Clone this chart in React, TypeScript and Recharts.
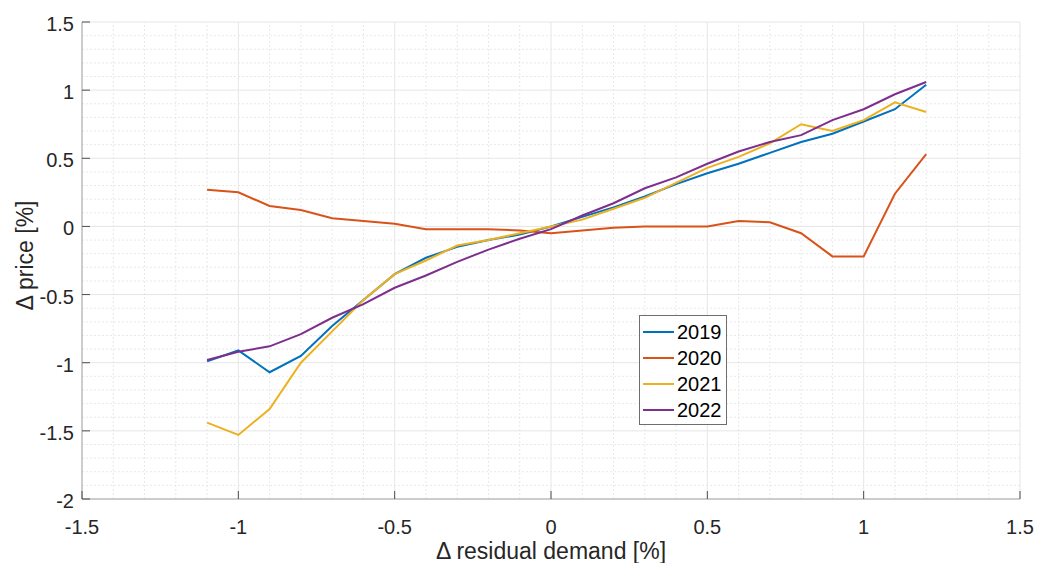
import {
  LineChart,
  Line,
  XAxis,
  YAxis,
  CartesianGrid,
  ReferenceLine,
  Legend,
} from 'recharts';

const demand = [-1.1, -1.0, -0.9, -0.8, -0.7, -0.6, -0.5, -0.4, -0.3, -0.2, -0.1, 0, 0.1, 0.2, 0.3, 0.4, 0.5, 0.6, 0.7, 0.8, 0.9, 1.0, 1.1, 1.2];
const price2019 = [-0.99, -0.91, -1.07, -0.95, -0.73, -0.54, -0.35, -0.23, -0.15, -0.1, -0.06, 0.0, 0.07, 0.14, 0.22, 0.31, 0.39, 0.46, 0.54, 0.62, 0.68, 0.77, 0.86, 1.04];
const price2020 = [0.27, 0.25, 0.15, 0.12, 0.06, 0.04, 0.02, -0.02, -0.02, -0.02, -0.03, -0.05, -0.03, -0.01, 0.0, 0.0, 0.0, 0.04, 0.03, -0.05, -0.22, -0.22, 0.24, 0.53];
const price2021 = [-1.44, -1.53, -1.34, -1.0, -0.77, -0.54, -0.35, -0.25, -0.14, -0.1, -0.05, 0.0, 0.05, 0.13, 0.21, 0.32, 0.43, 0.51, 0.61, 0.75, 0.7, 0.78, 0.91, 0.84];
const price2022 = [-0.98, -0.92, -0.88, -0.79, -0.67, -0.57, -0.45, -0.36, -0.26, -0.17, -0.09, -0.02, 0.08, 0.17, 0.28, 0.36, 0.46, 0.55, 0.62, 0.67, 0.78, 0.86, 0.97, 1.06];

const xTicks = [-1.5, -1, -0.5, 0, 0.5, 1, 1.5];
const yTicks = [-2, -1.5, -1, -0.5, 0, 0.5, 1, 1.5];

const series = [
  { key: 'y2019', name: '2019', color: '#0072BD' },
  { key: 'y2020', name: '2020', color: '#D95319' },
  { key: 'y2021', name: '2021', color: '#EDB120' },
  { key: 'y2022', name: '2022', color: '#7E2F8E' },
];

const data = demand.map((x, i) => ({
  x,
  y2019: price2019[i],
  y2020: price2020[i],
  y2021: price2021[i],
  y2022: price2022[i],
}));

// minor grid every 0.1, skipping the major lines
const minorX: number[] = [];
for (let i = -14; i <= 14; i++) if (i % 5 !== 0) minorX.push(i / 10);
const minorY: number[] = [];
for (let i = -19; i <= 14; i++) if (i % 5 !== 0) minorY.push(i / 10);

const FONT = '"Liberation Sans", Arial, Helvetica, sans-serif';
const TICK = '#4d4d4d';
const TEXT = '#262626';
const BOX = '#a6a6a6';

const BottomTick = ({ x, y, payload }: any) => (
  <g>
    <line x1={x} x2={x} y1={y} y2={y - 8} stroke={TICK} />
    <text x={x} y={y + 35} textAnchor="middle" fontSize={20} fill={TEXT} fontFamily={FONT}>
      {payload.value}
    </text>
  </g>
);

const LeftTick = ({ x, y, payload }: any) => (
  <g>
    <line x1={x} x2={x + 8} y1={y} y2={y} stroke={TICK} />
    <text x={x - 8} y={y + 9} textAnchor="end" fontSize={20} fill={TEXT} fontFamily={FONT}>
      {payload.value}
    </text>
  </g>
);

const TopTick = ({ x, y }: any) => <line x1={x} x2={x} y1={y} y2={y + 8} stroke={TICK} />;
const RightTick = ({ x, y }: any) => <line x1={x} x2={x - 8} y1={y} y2={y} stroke={TICK} />;

const YLabel = ({ viewBox }: any) => {
  const bx = viewBox.x + 33;
  const by = viewBox.y + viewBox.height / 2 - 5;
  return (
    <text
      x={bx}
      y={by}
      transform={`rotate(-90, ${bx}, ${by})`}
      textAnchor="middle"
      fontSize={23}
      fill={TEXT}
      fontFamily={FONT}
    >
      {'\u0394 price [%]'}
    </text>
  );
};

const LegendBox = () => (
  <div style={{ border: '1px solid #6e6e6e', background: '#fff', width: 86, height: 108 }}>
    <svg width={86} height={108}>
      {series.map((s, i) => (
        <g key={s.key}>
          <line x1={3} x2={34} y1={16 + i * 26} y2={16 + i * 26} stroke={s.color} strokeWidth={2} />
          <text x={37} y={23 + i * 26} fontSize={20} fill="#000" fontFamily={FONT}>
            {s.name}
          </text>
        </g>
      ))}
    </svg>
  </div>
);

export default function App() {
  return (
    <div style={{ position: 'absolute', left: 0, top: 0, background: '#fff' }}>
      <LineChart width={1037} height={563} data={data} margin={{ top: 22, right: 17, left: 0, bottom: 0 }}>
        <CartesianGrid stroke="#e6e6e6" />
        {minorX.map((v) => (
          <ReferenceLine key={'mx' + v} x={v} stroke="#e8e8e8" strokeDasharray="2 2" />
        ))}
        {minorY.map((v) => (
          <ReferenceLine key={'my' + v} y={v} stroke="#e8e8e8" strokeDasharray="2 2" />
        ))}
        <XAxis
          type="number"
          dataKey="x"
          domain={[-1.5, 1.5]}
          ticks={xTicks}
          height={64}
          tickSize={0}
          tickMargin={0}
          tick={<BottomTick />}
          axisLine={{ stroke: BOX }}
          label={{ value: '\u0394 residual demand [%]', position: 'insideBottom', offset: 4, fontSize: 23, fill: TEXT, fontFamily: FONT }}
        />
        <XAxis
          xAxisId="top"
          orientation="top"
          type="number"
          dataKey="x"
          domain={[-1.5, 1.5]}
          ticks={xTicks}
          height={0}
          tickSize={0}
          tickMargin={0}
          tick={<TopTick />}
          axisLine={{ stroke: BOX }}
        />
        <YAxis
          type="number"
          domain={[-2, 1.5]}
          ticks={yTicks}
          width={82}
          tickSize={0}
          tickMargin={0}
          tick={<LeftTick />}
          axisLine={{ stroke: BOX }}
          label={<YLabel />}
        />
        <YAxis
          yAxisId="right"
          orientation="right"
          type="number"
          domain={[-2, 1.5]}
          ticks={yTicks}
          width={0}
          tickSize={0}
          tickMargin={0}
          tick={<RightTick />}
          axisLine={{ stroke: BOX }}
        />
        {series.map((s) => (
          <Line
            key={s.key}
            type="linear"
            dataKey={s.key}
            name={s.name}
            stroke={s.color}
            strokeWidth={2}
            dot={false}
            isAnimationActive={false}
          />
        ))}
        <Legend
          layout="vertical"
          align="center"
          verticalAlign="middle"
          content={<LegendBox />}
          wrapperStyle={{ left: 639, top: 315, width: 88, height: 110 }}
        />
      </LineChart>
    </div>
  );
}
